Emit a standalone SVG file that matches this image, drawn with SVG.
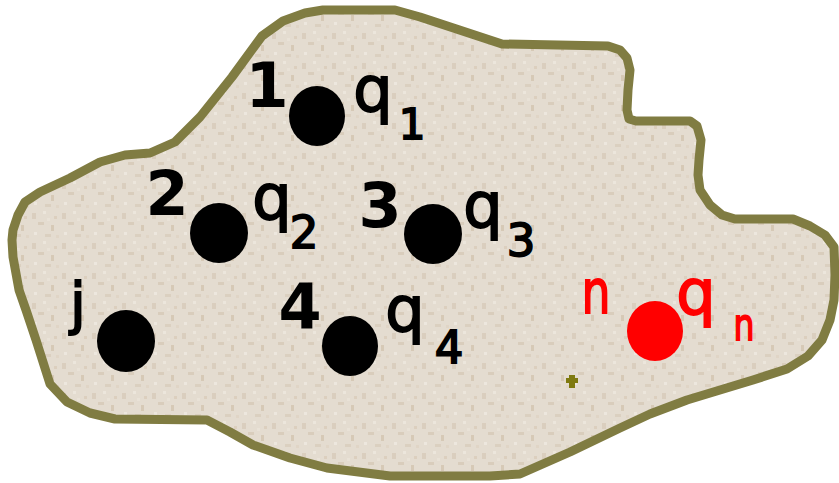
<svg xmlns="http://www.w3.org/2000/svg" width="839" height="483" viewBox="0 0 839 483">
<style>
.lbl{font-family:"DejaVu Sans",sans-serif;font-weight:bold;fill:#000;text-anchor:middle}
.thin{font-weight:normal;stroke:#000;stroke-width:1.8}
.red{fill:#ff0000;stroke:#ff0000}
.dot{fill:#000}
</style>
<defs>
<pattern id="tex" width="30" height="30" patternUnits="userSpaceOnUse">
<rect width="30" height="30" fill="#e4dcd0"/>
<rect x="2" y="3" width="4" height="6" fill="#dacebe"/>
<rect x="13" y="1" width="3" height="3" fill="#ece6dc"/>
<rect x="8" y="12" width="6" height="3" fill="#d9cdbc"/>
<rect x="21" y="15" width="3" height="6" fill="#d6c9b6"/>
<rect x="4" y="22" width="3" height="3" fill="#ede7de"/>
<rect x="15" y="24" width="6" height="3" fill="#dbd0c0"/>
<rect x="24" y="6" width="3" height="3" fill="#dccfbe"/>
<rect x="17" y="8" width="3" height="3" fill="#e9e2d7"/>
<rect x="26" y="25" width="3" height="3" fill="#e0d5c6"/>
</pattern>
</defs>
<g id="region">
<path fill="url(#tex)" stroke="#807c42" stroke-width="9" stroke-linejoin="round" d="M323,10 L395,10 L420,17 L502,44 L608,46 L620,50 L627,58 L630,70 L628,90 L627,110 L629,119 L636,121 L690,121 L697,126 L701,140 L699,160 L698,175 L700,190 L710,205 L722,215 L735,219 L793,219 L810,226 L825,235 L834,247 L835,275 L834,300 L830,320 L822,340 L808,356 L787,369 L753,380 L720,390 L687,400 L650,414 L620,428 L570,452 L520,474 L490,476 L390,476 L327,468 L290,458 L253,445 L230,432 L207,420 L115,419 L90,413 L67,402 L50,384 L36,340 L26,310 L19,290 L13,257 L12,240 L13,230 L18,215 L25,202 L40,192 L70,178 L100,162 L125,155 L150,153 L175,142 L200,117 L232,77 L262,36 L283,21 L305,13 Z"/>
<path fill="#7f7a10" d="M569,375 h6 v3 h3 v5 h-3 v5 h-6 v-5 h-3 v-5 h3 Z"/>
</g>
<g id="node-1">
<ellipse class="dot" cx="317" cy="116" rx="28" ry="30"/>
<text class="lbl" x="267" y="107" font-size="62">1</text>
<text class="lbl thin" x="373" y="111" font-size="62">q</text>
<text class="lbl thin" x="412" y="139" font-size="42">1</text>
</g>
<g id="node-2">
<ellipse class="dot" cx="219" cy="233" rx="29" ry="30"/>
<text class="lbl" x="167" y="215" font-size="62">2</text>
<text class="lbl thin" x="272" y="219" font-size="62">q</text>
<text class="lbl thin" x="304" y="248" font-size="45">2</text>
</g>
<g id="node-3">
<ellipse class="dot" cx="433" cy="234" rx="29" ry="30"/>
<text class="lbl" x="380" y="227" font-size="62">3</text>
<text class="lbl thin" x="483" y="227" font-size="62">q</text>
<text class="lbl thin" x="521" y="256" font-size="45">3</text>
</g>
<g id="node-4">
<ellipse class="dot" cx="350" cy="346" rx="28" ry="30"/>
<text class="lbl" x="300" y="328" font-size="62">4</text>
<text class="lbl thin" x="405" y="331" font-size="62">q</text>
<text class="lbl thin" x="449" y="363" font-size="45">4</text>
</g>
<g id="node-j">
<ellipse class="dot" cx="126" cy="341" rx="29" ry="31"/>
<text class="lbl thin" x="78" y="323" font-size="57">j</text>
</g>
<g id="node-n">
<ellipse cx="655" cy="331" rx="28" ry="30" fill="#ff0000"/>
<text class="lbl thin red" x="596" y="313" font-size="60" textLength="29" lengthAdjust="spacingAndGlyphs">n</text>
<text class="lbl thin red" x="696" y="314" font-size="62">q</text>
<text class="lbl thin red" x="744" y="340" font-size="44" textLength="21" lengthAdjust="spacingAndGlyphs">n</text>
</g>
</svg>
